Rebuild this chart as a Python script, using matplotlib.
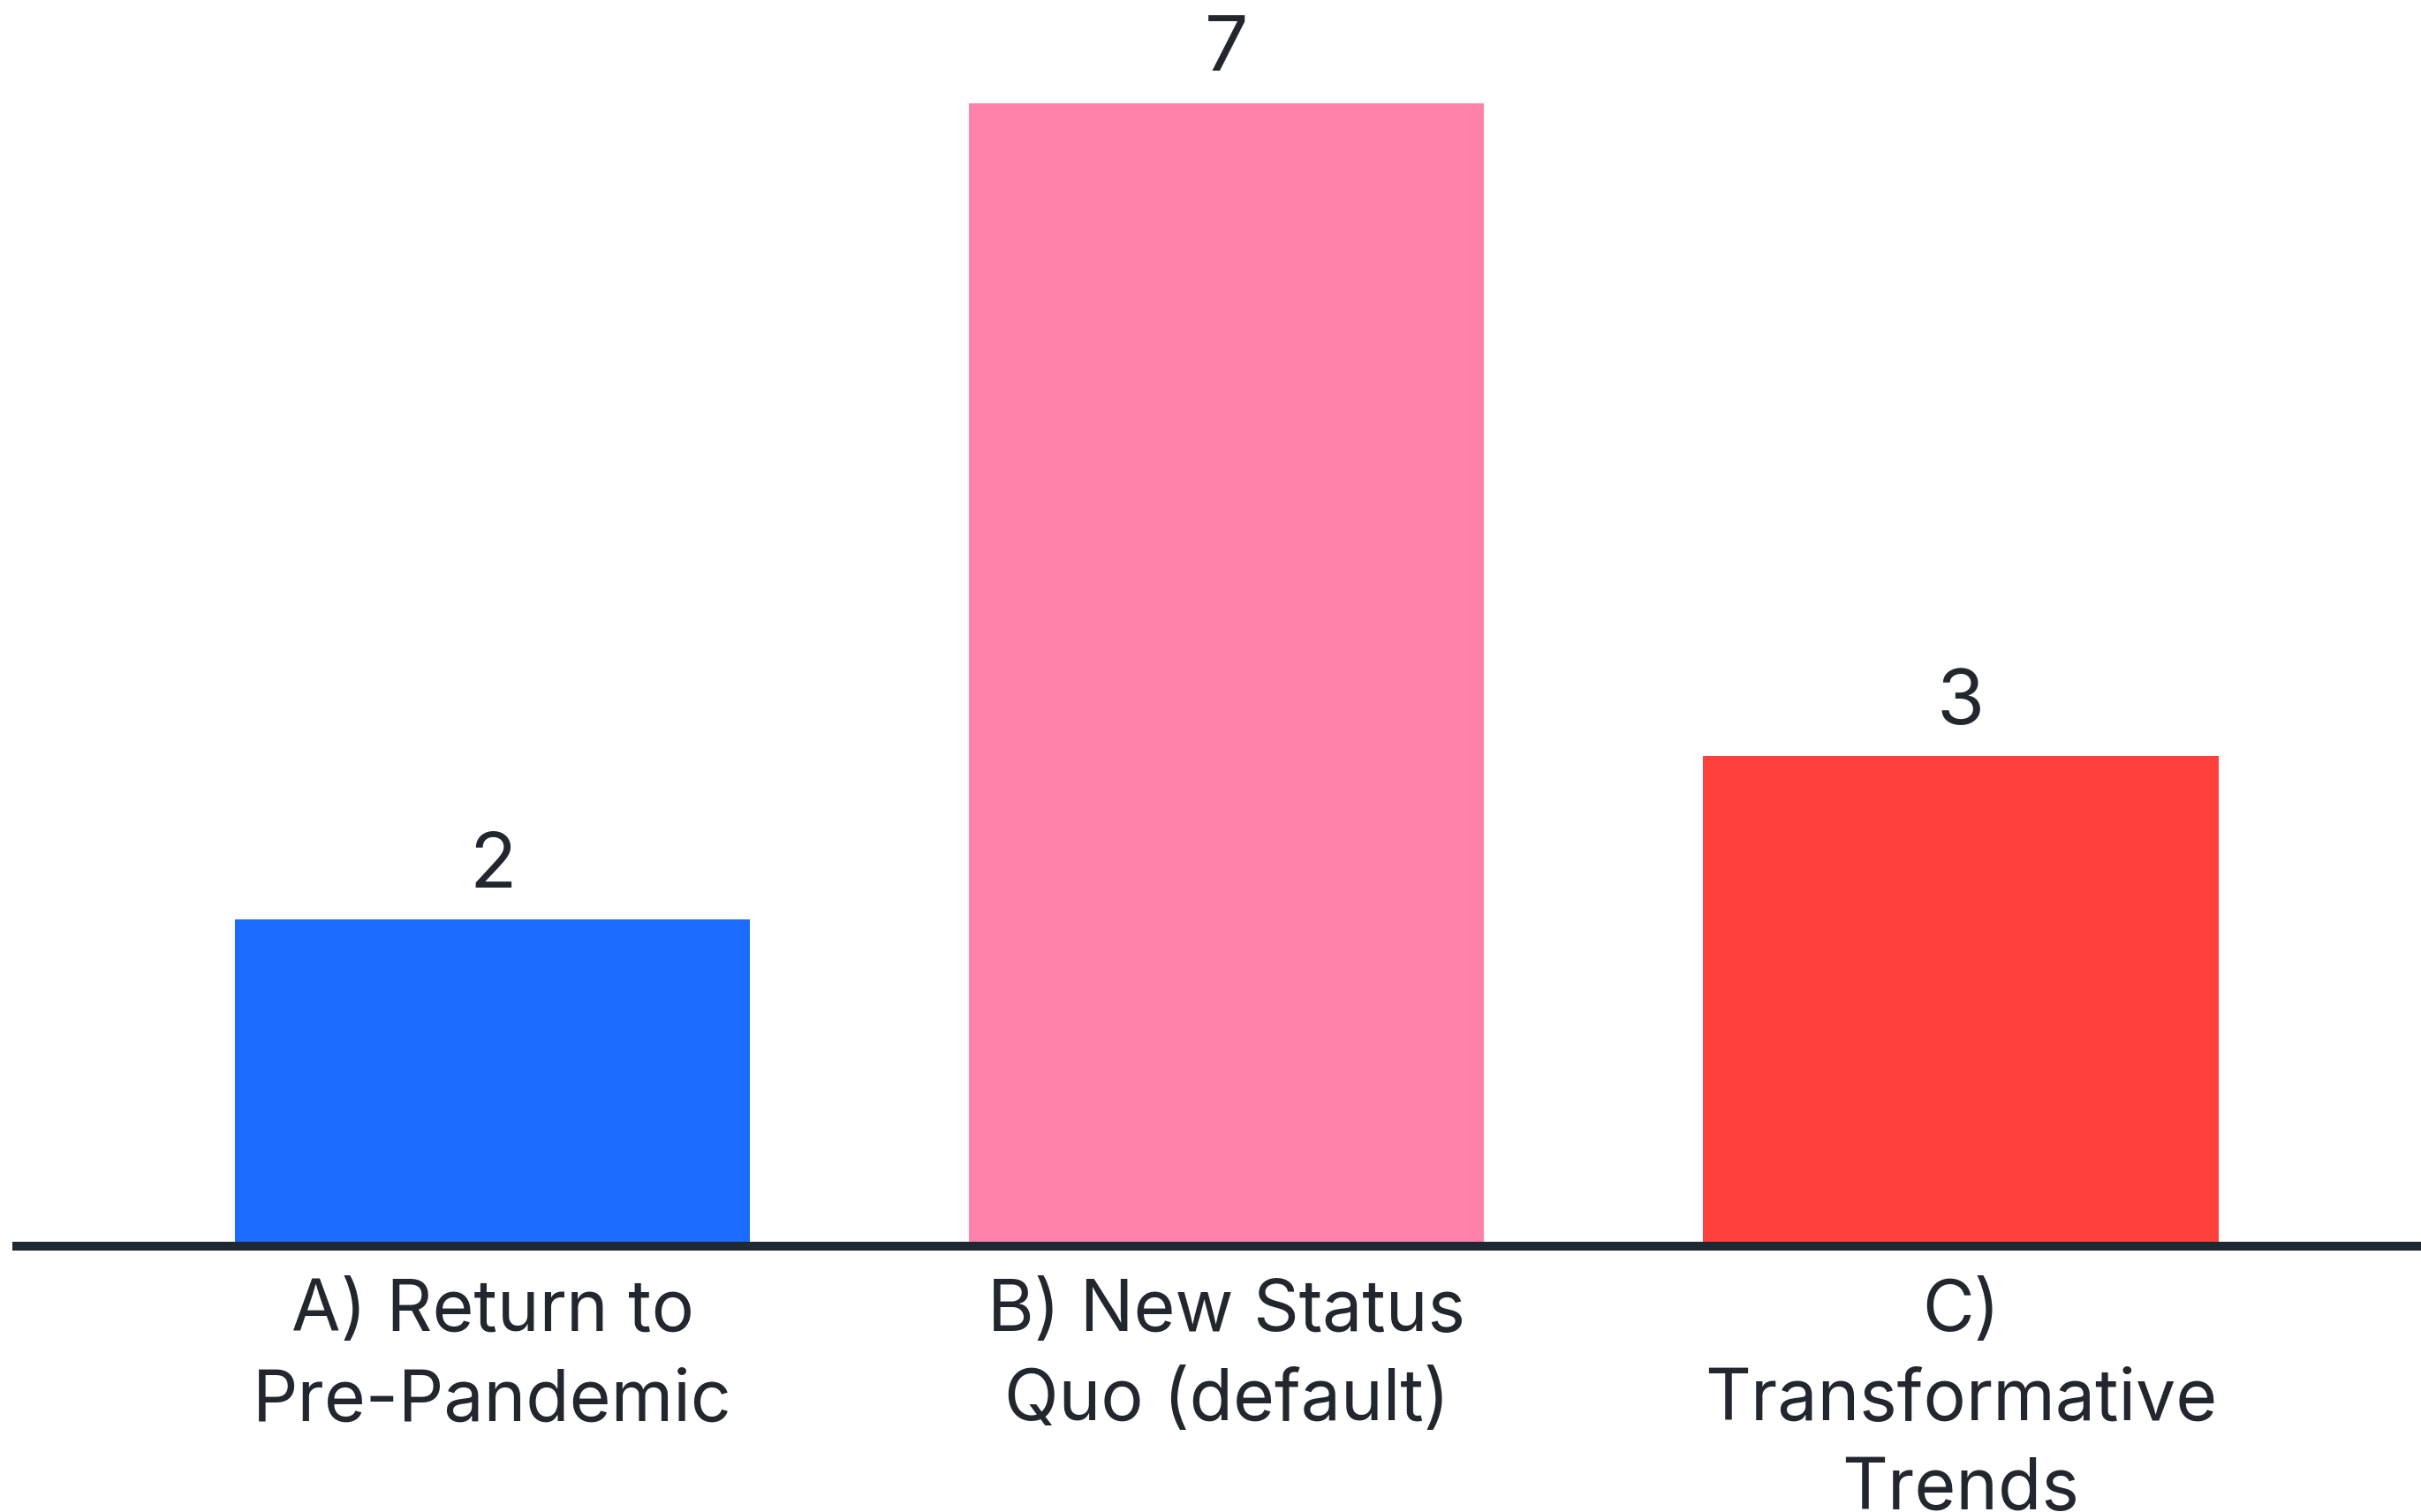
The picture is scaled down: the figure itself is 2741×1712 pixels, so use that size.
import matplotlib
matplotlib.use("Agg")
import matplotlib.pyplot as plt

# scenario counts
scenarios = ["A) Return to\nPre-Pandemic", "B) New Status\nQuo (default)", "C)\nTransformative\nTrends"]
counts = [2, 7, 3]
bar_colors = ["#1c6bff", "#ff82aa", "#ff403d"]

plt.rcParams['font.family'] = ['Inter', 'DejaVu Sans']
text_color = "#22262e"

fig = plt.figure(figsize=(27.41, 17.12), dpi=100)
ax = fig.add_axes([14 / 2741, 301 / 1712, 1 - 14 / 2741, 1411 / 1712])

x = range(len(counts))
bars = ax.bar(x, counts, width=0.702, color=bar_colors, zorder=1)

ax.set_xlim(-0.654, 2.627)
ax.set_ylim(0, 7.63)

# value labels just above each bar
for b, v in zip(bars, counts):
    ax.annotate(str(v), (b.get_x() + b.get_width() / 2, v), xytext=(0, 13),
                textcoords="offset points", ha="center", va="bottom",
                fontsize=63, color=text_color)

ax.set_xticks(list(x))
ax.set_xticklabels(scenarios, fontsize=58, color=text_color, linespacing=1.42)
ax.tick_params(axis="x", length=0, pad=27)
ax.set_yticks([])

for s in ["top", "right", "left"]:
    ax.spines[s].set_visible(False)
ax.spines["bottom"].set_linewidth(7.2)
ax.spines["bottom"].set_color("#1f2933")
ax.spines["bottom"].set_capstyle("butt")
ax.spines["bottom"].set_zorder(3)

fig.savefig("out.png", dpi=100, facecolor="white")
